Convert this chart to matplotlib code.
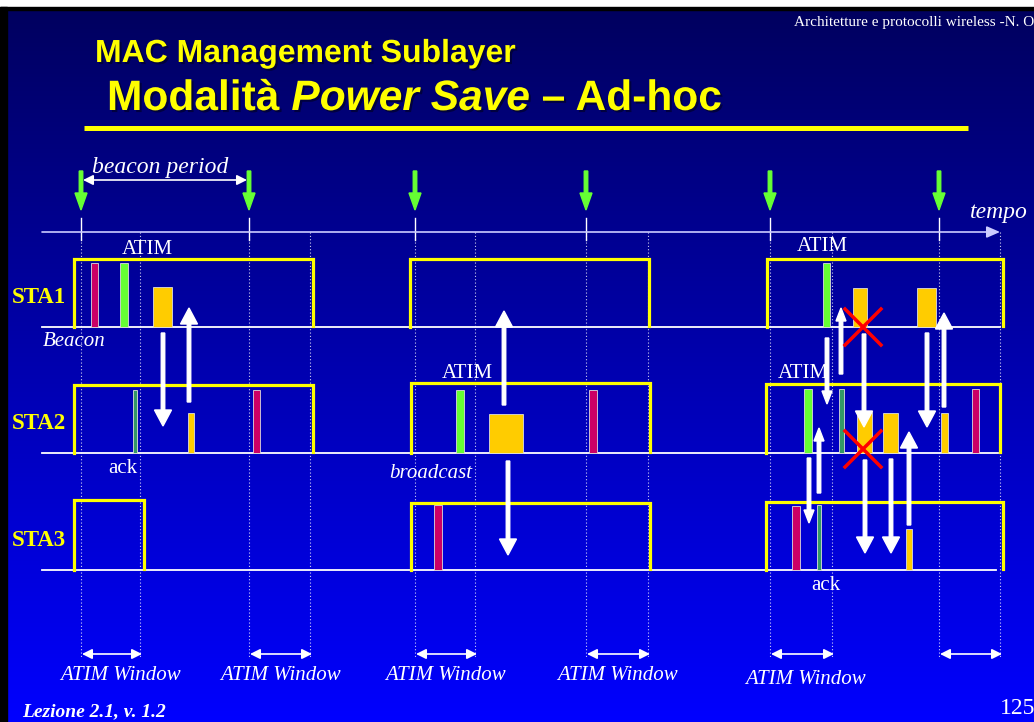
import numpy as np
import matplotlib.pyplot as plt
import matplotlib.patheffects as pe

# beacon instants and end of each ATIM window (pixel positions on the slide)
beacon_x = [81, 249, 415, 586, 770, 939]
window_end = [140, 310, 475, 648, 832, 1000]

stations = ["STA1", "STA2", "STA3"]
station_y = [327, 453, 570]
station_line_end = [1000, 998, 996]

# awake periods per station: (start, end, top)
awake_sta1 = [(74, 313, 259), (410, 649, 259), (767, 1003, 259)]
awake_sta2 = [(74, 313, 385), (411, 650, 383), (766, 1000, 384)]
awake_sta3 = [(74, 144, 500), (411, 650, 503), (766, 1003, 502)]
awake = [awake_sta1, awake_sta2, awake_sta3]

# frames: (start, end, top, kind)
frames_sta1 = [(91, 98, 263, "beacon"), (120, 128, 263, "atim"), (153, 172, 287, "data"),
               (823, 830, 263, "atim"), (853, 867, 288, "data"), (917, 936, 288, "data")]
frames_sta2 = [(133, 137, 390, "ack"), (188, 194, 413, "data"), (253, 260, 390, "beacon"),
               (456, 464, 390, "atim"), (489, 523, 414, "data"), (589, 597, 390, "beacon"),
               (804, 812, 389, "atim"), (839, 844, 389, "ack"), (857, 872, 412, "data"),
               (883, 898, 413, "data"), (941, 948, 413, "data"), (972, 979, 389, "beacon")]
frames_sta3 = [(434, 442, 505, "beacon"), (792, 800, 506, "beacon"), (817, 821, 505, "ack"),
               (906, 912, 529, "data")]
frames = [frames_sta1, frames_sta2, frames_sta3]
frame_colors = {"beacon": "#CC0066", "atim": "#66FF33", "ack": "#339966", "data": "#FFCC00"}

# white transmission arrows: (x, from_y, to_y, big head?)
tx_arrows = [(163, 333, 426, True), (189, 402, 308, True),
             (504, 405, 311, True), (508, 461, 555, True),
             (841, 374, 308, False), (827, 338, 404, False), (864, 334, 427, True),
             (927, 333, 427, True), (944, 407, 313, True),
             (819, 493, 428, False), (809, 458, 523, False), (865, 460, 553, True),
             (891, 459, 553, True), (909, 525, 432, True)]

# collisions
collisions = [(863, 327), (863, 449)]

# ATIM window labels
window_label_x = [120, 280, 445, 617, 805]
window_label_y = [674, 674, 674, 674, 678]

serif = "Liberation Serif"
sans = "Liberation Sans"
yellow = "#FFFF00"
shadow = [pe.withSimplePatchShadow(offset=(1.5, -1.5), shadow_rgbFace="#000033", alpha=0.8)]

fig = plt.figure(figsize=(10.34, 7.22), dpi=100)
ax = fig.add_axes([0, 0, 1, 1])
ax.set_xlim(0, 1034)
ax.set_ylim(722, 0)
ax.axis("off")

# background gradient
grad = np.linspace(0.37, 1.0, 256)
bg = np.zeros((256, 1, 3))
bg[:, 0, 2] = grad
ax.imshow(bg, extent=[0, 1034, 722, 7], aspect="auto", zorder=0)
ax.add_patch(plt.Rectangle((0, 0), 1034, 7, color="white", zorder=1))
ax.add_patch(plt.Rectangle((0, 7), 1034, 3, color="black", zorder=1))
ax.add_patch(plt.Rectangle((0, 7), 7, 715, color="black", zorder=1))

# titles
ax.text(1034, 26, "Architetture e protocolli wireless -N. O", family=serif, fontsize=11,
        color="white", ha="right", va="baseline")
ax.text(95, 62, "MAC Management Sublayer", family=sans, weight="bold", fontsize=23,
        color=yellow, va="baseline", path_effects=shadow)
renderer = fig.canvas.get_renderer()
x = 107
for piece, style in [("Modalità ", "normal"), ("Power Save", "italic"), (" – Ad-hoc", "normal")]:
    t = ax.text(x, 110, piece, family=sans, weight="bold", style=style, fontsize=30.6,
                color=yellow, va="baseline", path_effects=shadow)
    x = t.get_window_extent(renderer).x1
ax.plot([84, 968], [127.5, 127.5], color=yellow, lw=3.6, solid_capstyle="butt")

# time axis
ax.annotate("", xy=(1000, 232), xytext=(42, 232),
            arrowprops=dict(arrowstyle="-|>,head_length=0.8,head_width=0.35", color="#CCCCFF",
                            lw=1.2, shrinkA=0, shrinkB=0))
ax.text(970, 218, "tempo", family=serif, style="italic", fontsize=17, color="white", va="baseline")

# beacon markers and dotted guide lines
for bx in beacon_x:
    ax.arrow(bx, 171, 0, 39, width=3.5, head_width=12, head_length=17,
             length_includes_head=True, color="#66FF33", zorder=3)
    ax.plot([bx, bx], [218, 240], color="white", lw=1, zorder=2)
for gx in beacon_x + window_end:
    ax.plot([gx, gx], [232, 658], color="white", lw=0.8, ls=(0, (1, 2)), alpha=0.8, zorder=2)

ax.annotate("", xy=(247, 180), xytext=(83, 180),
            arrowprops=dict(arrowstyle="<|-|>,head_length=0.6,head_width=0.3", color="white",
                            lw=1.2, shrinkA=0, shrinkB=0))
ax.text(92, 173, "beacon period", family=serif, style="italic", fontsize=17, color="white",
        va="baseline")

# stations
for name, y0, xend, periods, flist in zip(stations, station_y, station_line_end, awake, frames):
    ax.plot([42, xend], [y0, y0], color="white", lw=1.3, zorder=2)
    ax.text(12, y0 - 24, name, family=serif, weight="bold", fontsize=16.5, color=yellow,
            va="baseline")
    for x0, x1, top in periods:
        ax.plot([x0, x0, x1, x1], [y0, top, top, y0 - 1], color=yellow, lw=2.3,
                solid_joinstyle="miter", zorder=3)
    for x0, x1, top, kind in flist:
        ax.add_patch(plt.Rectangle((x0, top), x1 - x0, y0 - top, facecolor=frame_colors[kind],
                                   edgecolor="#DDDDDD", lw=0.6, zorder=4))

for ax_x, y_from, y_to, big in tx_arrows:
    if big:
        hw, hl = 17, 16
    else:
        hw, hl = 10, 13
    ax.arrow(ax_x, y_from, 0, y_to - y_from, width=3.5, head_width=hw, head_length=hl,
             length_includes_head=True, color="white", zorder=5)

for cx, cy in collisions:
    ax.plot([cx - 18, cx + 18], [cy - 18, cy + 18], color="#FF0000", lw=2.5, zorder=6)
    ax.plot([cx - 18, cx + 18], [cy + 18, cy - 18], color="#FF0000", lw=2.5, zorder=6)

# labels on the diagram
ax.text(122, 254, "ATIM", family=serif, fontsize=15, color="white", va="baseline")
ax.text(797, 251, "ATIM", family=serif, fontsize=15, color="white", va="baseline")
ax.text(442, 378, "ATIM", family=serif, fontsize=15, color="white", va="baseline")
ax.text(778, 378, "ATIM", family=serif, fontsize=15, color="white", va="baseline")
ax.text(43, 346, "Beacon", family=serif, style="italic", fontsize=15, color="white", va="baseline")
ax.text(108, 473, "ack", family=serif, fontsize=15, color="white", va="baseline")
ax.text(389, 478, "broadcast", family=serif, style="italic", fontsize=15, color="white",
        va="baseline")
ax.text(811, 590, "ack", family=serif, fontsize=15, color="white", va="baseline")

# ATIM window spans
for bx, wx in zip(beacon_x, window_end):
    ax.annotate("", xy=(wx + 2, 654), xytext=(bx + 1, 654),
                arrowprops=dict(arrowstyle="<|-|>,head_length=0.6,head_width=0.3", color="white",
                                lw=1.2, shrinkA=0, shrinkB=0))
for lx, ly in zip(window_label_x, window_label_y):
    ax.text(lx, ly + 6, "ATIM Window", family=serif, style="italic", fontsize=15, color="white",
            ha="center", va="baseline")

ax.text(22, 716, "Lezione 2.1, v. 1.2", family=serif, weight="bold", style="italic", fontsize=14,
        color="white", va="baseline")
ax.text(1000, 714, "125", family=serif, fontsize=17, color="white", va="baseline")

fig.savefig("out.png", dpi=100)
